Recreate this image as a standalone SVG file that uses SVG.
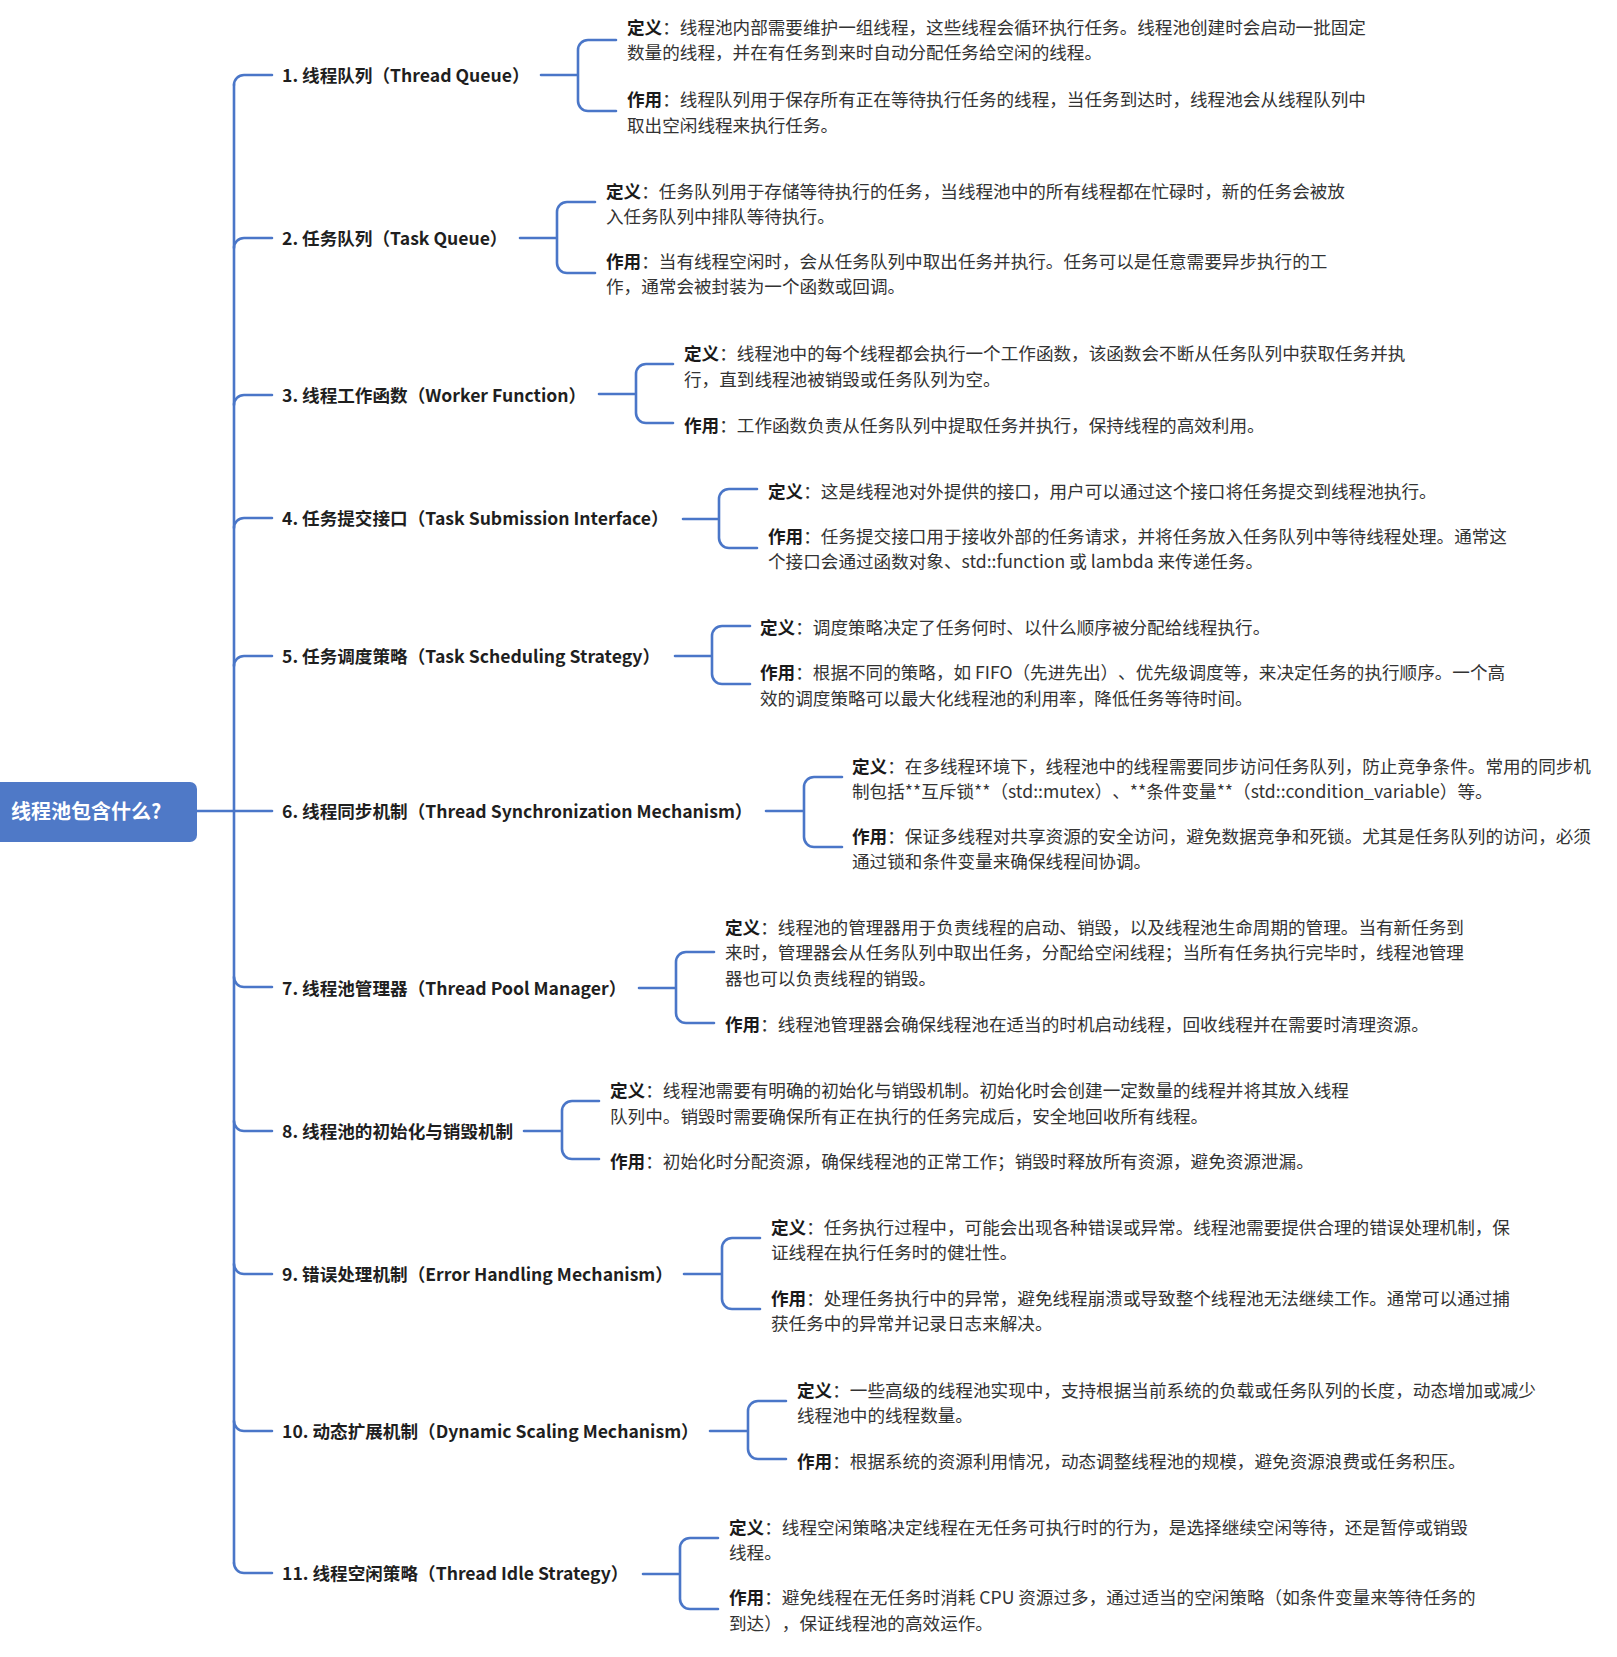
<svg xmlns="http://www.w3.org/2000/svg" width="1617" height="1657" viewBox="0 0 1617 1657">
<style>
text{text-spacing-trim:space-all}
.ln{fill:none;stroke:#4a76c8;stroke-width:2.6;stroke-linecap:round;stroke-linejoin:round}
.lb{font-family:"Noto Sans CJK SC","Noto Sans",sans-serif;font-size:17.6px;font-weight:bold;fill:#1f1f1f}
.tx{font-family:"Noto Sans CJK SC","Noto Sans",sans-serif;font-size:17.6px;fill:#333333}
.b{font-weight:bold;fill:#1a1a1a}
.rt{font-family:"Noto Sans CJK SC","Noto Sans",sans-serif;font-size:20px;font-weight:bold;fill:#ffffff}
</style>
<rect width="1617" height="1657" fill="#ffffff"/>
<g id="connectors">
<path class="ln" d="M197,811 H272"/>
<path class="ln" d="M234,85 V1563"/>
<path class="ln" d="M234,85 A10,10 0 0 1 244,75 H272"/>
<path class="ln" d="M234,248 A10,10 0 0 1 244,238 H272"/>
<path class="ln" d="M234,405 A10,10 0 0 1 244,395 H272"/>
<path class="ln" d="M234,528 A10,10 0 0 1 244,518 H272"/>
<path class="ln" d="M234,666 A10,10 0 0 1 244,656 H272"/>
<path class="ln" d="M234,977 A10,10 0 0 0 244,987 H272"/>
<path class="ln" d="M234,1121 A10,10 0 0 0 244,1131 H272"/>
<path class="ln" d="M234,1264 A10,10 0 0 0 244,1274 H272"/>
<path class="ln" d="M234,1421 A10,10 0 0 0 244,1431 H272"/>
<path class="ln" d="M234,1563 A10,10 0 0 0 244,1573 H272"/>
<path class="ln" d="M541,75 H578 M616,40 H588 A10,10 0 0 0 578,50 V101 A10,10 0 0 0 588,111 H616"/>
<path class="ln" d="M520,238 H557 M595,202 H567 A10,10 0 0 0 557,212 V263 A10,10 0 0 0 567,273 H595"/>
<path class="ln" d="M599,394 H636 M673,364 H646 A10,10 0 0 0 636,374 V413 A10,10 0 0 0 646,423 H673"/>
<path class="ln" d="M683,519 H719 M757,489 H729 A10,10 0 0 0 719,499 V538 A10,10 0 0 0 729,548 H757"/>
<path class="ln" d="M675,656 H712 M750,626 H722 A10,10 0 0 0 712,636 V674 A10,10 0 0 0 722,684 H750"/>
<path class="ln" d="M766,811 H804 M842,777 H814 A10,10 0 0 0 804,787 V837 A10,10 0 0 0 814,847 H842"/>
<path class="ln" d="M639,988 H676 M714,952 H686 A10,10 0 0 0 676,962 V1013 A10,10 0 0 0 686,1023 H714"/>
<path class="ln" d="M524,1131 H562 M599,1101 H572 A10,10 0 0 0 562,1111 V1149 A10,10 0 0 0 572,1159 H599"/>
<path class="ln" d="M684,1274 H722 M760,1238 H732 A10,10 0 0 0 722,1248 V1299 A10,10 0 0 0 732,1309 H760"/>
<path class="ln" d="M710,1431 H748 M786,1401 H758 A10,10 0 0 0 748,1411 V1449 A10,10 0 0 0 758,1459 H786"/>
<path class="ln" d="M643,1574 H680 M718,1538 H690 A10,10 0 0 0 680,1548 V1599 A10,10 0 0 0 690,1609 H718"/>
</g>
<g id="root">
<rect x="-8" y="782" width="205" height="60" rx="7" fill="#4f79c7"/>
<text class="rt" x="11" y="819">线程池包含什么?</text>
</g>
<g id="n1">
<text class="lb" x="282" y="82">1. 线程队列（Thread Queue）</text>
<text class="tx" x="627" y="33.5"><tspan class="b">定义</tspan>：线程池内部需要维护一组线程，这些线程会循环执行任务。线程池创建时会启动一批固定</text>
<text class="tx" x="627" y="58.5">数量的线程，并在有任务到来时自动分配任务给空闲的线程。</text>
<text class="tx" x="627" y="105.5"><tspan class="b">作用</tspan>：线程队列用于保存所有正在等待执行任务的线程，当任务到达时，线程池会从线程队列中</text>
<text class="tx" x="627" y="131.5">取出空闲线程来执行任务。</text>
</g>
<g id="n2">
<text class="lb" x="282" y="245">2. 任务队列（Task Queue）</text>
<text class="tx" x="606" y="197.5"><tspan class="b">定义</tspan>：任务队列用于存储等待执行的任务，当线程池中的所有线程都在忙碌时，新的任务会被放</text>
<text class="tx" x="606" y="222.5">入任务队列中排队等待执行。</text>
<text class="tx" x="606" y="267.5"><tspan class="b">作用</tspan>：当有线程空闲时，会从任务队列中取出任务并执行。任务可以是任意需要异步执行的工</text>
<text class="tx" x="606" y="292.5">作，通常会被封装为一个函数或回调。</text>
</g>
<g id="n3">
<text class="lb" x="282" y="402">3. 线程工作函数（Worker Function）</text>
<text class="tx" x="684" y="359.5"><tspan class="b">定义</tspan>：线程池中的每个线程都会执行一个工作函数，该函数会不断从任务队列中获取任务并执</text>
<text class="tx" x="684" y="385.5">行，直到线程池被销毁或任务队列为空。</text>
<text class="tx" x="684" y="431.5"><tspan class="b">作用</tspan>：工作函数负责从任务队列中提取任务并执行，保持线程的高效利用。</text>
</g>
<g id="n4">
<text class="lb" x="282" y="525">4. 任务提交接口（Task Submission Interface）</text>
<text class="tx" x="768" y="497.5"><tspan class="b">定义</tspan>：这是线程池对外提供的接口，用户可以通过这个接口将任务提交到线程池执行。</text>
<text class="tx" x="768" y="542.5"><tspan class="b">作用</tspan>：任务提交接口用于接收外部的任务请求，并将任务放入任务队列中等待线程处理。通常这</text>
<text class="tx" x="768" y="567.5">个接口会通过函数对象、std::function 或 lambda 来传递任务。</text>
</g>
<g id="n5">
<text class="lb" x="282" y="663">5. 任务调度策略（Task Scheduling Strategy）</text>
<text class="tx" x="760" y="633.5"><tspan class="b">定义</tspan>：调度策略决定了任务何时、以什么顺序被分配给线程执行。</text>
<text class="tx" x="760" y="678.5"><tspan class="b">作用</tspan>：根据不同的策略，如 FIFO（先进先出）、优先级调度等，来决定任务的执行顺序。一个高</text>
<text class="tx" x="760" y="704.5">效的调度策略可以最大化线程池的利用率，降低任务等待时间。</text>
</g>
<g id="n6">
<text class="lb" x="282" y="818">6. 线程同步机制（Thread Synchronization Mechanism）</text>
<text class="tx" x="852" y="772.5"><tspan class="b">定义</tspan>：在多线程环境下，线程池中的线程需要同步访问任务队列，防止竞争条件。常用的同步机</text>
<text class="tx" x="852" y="797.5">制包括**互斥锁**（std::mutex）、**条件变量**（std::condition_variable）等。</text>
<text class="tx" x="852" y="842.5"><tspan class="b">作用</tspan>：保证多线程对共享资源的安全访问，避免数据竞争和死锁。尤其是任务队列的访问，必须</text>
<text class="tx" x="852" y="867.5">通过锁和条件变量来确保线程间协调。</text>
</g>
<g id="n7">
<text class="lb" x="282" y="995">7. 线程池管理器（Thread Pool Manager）</text>
<text class="tx" x="725" y="933.5"><tspan class="b">定义</tspan>：线程池的管理器用于负责线程的启动、销毁，以及线程池生命周期的管理。当有新任务到</text>
<text class="tx" x="725" y="958.5">来时，管理器会从任务队列中取出任务，分配给空闲线程；当所有任务执行完毕时，线程池管理</text>
<text class="tx" x="725" y="984.5">器也可以负责线程的销毁。</text>
<text class="tx" x="725" y="1030.5"><tspan class="b">作用</tspan>：线程池管理器会确保线程池在适当的时机启动线程，回收线程并在需要时清理资源。</text>
</g>
<g id="n8">
<text class="lb" x="282" y="1138">8. 线程池的初始化与销毁机制</text>
<text class="tx" x="610" y="1096.5"><tspan class="b">定义</tspan>：线程池需要有明确的初始化与销毁机制。初始化时会创建一定数量的线程并将其放入线程</text>
<text class="tx" x="610" y="1122.5">队列中。销毁时需要确保所有正在执行的任务完成后，安全地回收所有线程。</text>
<text class="tx" x="610" y="1167.5"><tspan class="b">作用</tspan>：初始化时分配资源，确保线程池的正常工作；销毁时释放所有资源，避免资源泄漏。</text>
</g>
<g id="n9">
<text class="lb" x="282" y="1281">9. 错误处理机制（Error Handling Mechanism）</text>
<text class="tx" x="771" y="1233.5"><tspan class="b">定义</tspan>：任务执行过程中，可能会出现各种错误或异常。线程池需要提供合理的错误处理机制，保</text>
<text class="tx" x="771" y="1258.5">证线程在执行任务时的健壮性。</text>
<text class="tx" x="771" y="1304.5"><tspan class="b">作用</tspan>：处理任务执行中的异常，避免线程崩溃或导致整个线程池无法继续工作。通常可以通过捕</text>
<text class="tx" x="771" y="1329.5">获任务中的异常并记录日志来解决。</text>
</g>
<g id="n10">
<text class="lb" x="282" y="1438">10. 动态扩展机制（Dynamic Scaling Mechanism）</text>
<text class="tx" x="797" y="1396.5"><tspan class="b">定义</tspan>：一些高级的线程池实现中，支持根据当前系统的负载或任务队列的长度，动态增加或减少</text>
<text class="tx" x="797" y="1421.5">线程池中的线程数量。</text>
<text class="tx" x="797" y="1467.5"><tspan class="b">作用</tspan>：根据系统的资源利用情况，动态调整线程池的规模，避免资源浪费或任务积压。</text>
</g>
<g id="n11">
<text class="lb" x="282" y="1580">11. 线程空闲策略（Thread Idle Strategy）</text>
<text class="tx" x="729" y="1533.5"><tspan class="b">定义</tspan>：线程空闲策略决定线程在无任务可执行时的行为，是选择继续空闲等待，还是暂停或销毁</text>
<text class="tx" x="729" y="1558.5">线程。</text>
<text class="tx" x="729" y="1603.5"><tspan class="b">作用</tspan>：避免线程在无任务时消耗 CPU 资源过多，通过适当的空闲策略（如条件变量来等待任务的</text>
<text class="tx" x="729" y="1629.5">到达），保证线程池的高效运作。</text>
</g>
</svg>
